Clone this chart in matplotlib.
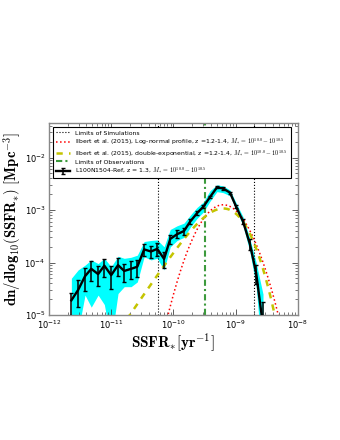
import numpy as np
import matplotlib.pyplot as plt
from matplotlib.lines import Line2D

plt.rcParams['mathtext.fontset'] = 'cm'
plt.rcParams['font.family'] = ['DejaVu Sans']

# --------------------------------------------------
# data (log10 values)
# --------------------------------------------------
log_ssfr = [-11.64, -11.53, -11.42, -11.32, -11.21, -11.11, -11.00, -10.89,
            -10.79, -10.68, -10.58, -10.47, -10.36, -10.26, -10.15, -10.05,
            -9.94, -9.83, -9.73, -9.62, -9.52, -9.41, -9.30, -9.20, -9.09,
            -8.99, -8.88, -8.77, -8.67, -8.56]

log_phi = [-4.72, -4.52, -4.26, -4.12, -4.22, -4.06, -4.24, -4.05,
           -4.16, -4.12, -4.08, -3.75, -3.79, -3.74, -3.93, -3.55,
           -3.46, -3.40, -3.22, -3.06, -2.94, -2.75, -2.57, -2.59, -2.67,
           -2.94, -3.22, -3.65, -4.20, -5.20]

log_err_lo = [-5.30, -4.85, -4.55, -4.35, -4.45, -4.28, -4.50, -4.26,
              -4.38, -4.32, -4.27, -3.88, -3.92, -3.87, -4.10, -3.64,
              -3.54, -3.47, -3.27, -3.10, -2.97, -2.77, -2.59, -2.61, -2.69,
              -2.97, -3.27, -3.76, -4.40, -5.60]

log_err_hi = [-4.58, -4.33, -4.10, -3.98, -4.07, -3.93, -4.07, -3.92,
              -4.02, -3.98, -3.95, -3.64, -3.68, -3.63, -3.80, -3.47,
              -3.39, -3.34, -3.17, -3.02, -2.91, -2.73, -2.55, -2.57, -2.65,
              -2.91, -3.17, -3.56, -4.05, -4.75]

# scatter band (cyan)
log_band_lo = [-5.50, -5.30, -4.62, -4.85, -4.62, -4.80, -5.50, -4.59,
               -4.46, -4.46, -4.37, -3.89, -3.95, -3.92, -4.14, -3.70,
               -3.58, -3.52, -3.33, -3.16, -3.04, -2.83, -2.65, -2.67, -2.73,
               -3.00, -3.30, -3.80, -4.45, -6.00]

log_band_hi = [-4.30, -4.14, -4.05, -3.95, -4.02, -3.92, -4.08, -3.88,
               -3.92, -3.90, -3.86, -3.60, -3.58, -3.57, -3.70, -3.37,
               -3.30, -3.25, -3.10, -2.95, -2.85, -2.63, -2.52, -2.54, -2.62,
               -2.87, -3.13, -3.55, -4.00, -4.60]

# limits
sim_limits = [5.6e-11, 2.0e-9]
obs_limit = 3.2e-10

# Ilbert et al. (2015) fits (parameters)
ln_phi_star = 10**-2.90
ln_log_ssfr_star = -9.20
ln_sigma = 0.285

de_phi_star = 10**-2.666
de_log_ssfr_star = -9.35
de_alpha = -0.725
de_sigma = 0.2375


# --------------------------------------------------
# model curves
# --------------------------------------------------
ssfr_grid = np.logspace(-12, -8, 500)
lg = np.log10(ssfr_grid)

lognormal = ln_phi_star * np.exp(-(lg - ln_log_ssfr_star)**2 / (2 * ln_sigma**2))

ratio = ssfr_grid / 10**de_log_ssfr_star
double_exp = de_phi_star * ratio**(1 - de_alpha) * \
    np.exp(-np.log10(1 + ratio)**2 / (2 * de_sigma**2))


# --------------------------------------------------
# figure
# --------------------------------------------------
fig = plt.figure(figsize=(3.4, 4.4), dpi=100)
ax = fig.add_axes([0.144, 0.284, 0.732, 0.436])

ssfr = 10**np.array(log_ssfr)
phi = 10**np.array(log_phi)
err_lo = phi - 10**np.array(log_err_lo)
err_hi = 10**np.array(log_err_hi) - phi

ax.fill_between(ssfr, 10**np.array(log_band_lo), 10**np.array(log_band_hi),
                color='cyan', lw=0, zorder=1)

green = '#3c9a3c'
green_dash = (3, 1.5, 1, 1.5)

for x in sim_limits:
    ax.axvline(x, color='k', ls=':', lw=0.8, zorder=2)
ax.axvline(obs_limit, color=green, lw=1.5, dashes=green_dash, zorder=2)

ax.plot(ssfr_grid, lognormal, color='red', ls=':', lw=1.1, zorder=3)
ax.plot(ssfr_grid, double_exp, color='#c4c400', ls='--', lw=1.8,
        dashes=(2.5, 2.5), zorder=3)

eb = ax.errorbar(ssfr, phi, yerr=[err_lo, err_hi], color='k', lw=1.7,
                 elinewidth=1.1, capsize=1.5, capthick=1.0, zorder=4)

ax.set_xscale('log')
ax.set_yscale('log')
ax.set_xlim(1e-12, 1e-8)
ax.set_ylim(1e-5, 4.5e-2)

ax.set_xlabel(r'$\mathbf{SSFR_{*}[yr^{-1}]}$', fontsize=11, labelpad=0)
ax.set_ylabel(r'$\mathbf{dn/dlog_{10}(SSFR_{*})\ [Mpc^{-3}]}$', fontsize=10.6)
ax.yaxis.set_label_coords(-0.10, 0.5)

ax.tick_params(which='both', direction='in', top=True, right=True,
               labelsize=6, colors='#444444', labelcolor='k', pad=2.5)
ax.tick_params(which='major', length=4, width=0.6)
ax.tick_params(which='minor', length=2, width=0.5)
for sp in ax.spines.values():
    sp.set_color('#888888')
    sp.set_linewidth(1.0)

mlabel = r'$M_{*}\,=\,10^{10.0}-10^{10.5}$'
handles = [
    Line2D([], [], color='k', ls=':', lw=0.8),
    Line2D([], [], color='red', ls=':', lw=1.1),
    Line2D([], [], color='#c4c400', ls='--', lw=1.8, dashes=(2.5, 2.5)),
    Line2D([], [], color=green, lw=1.5, dashes=green_dash),
    eb,
]
labels = [
    'Limits of Simulations',
    'Ilbert et al. (2015), Log-normal profile, z =1.2-1.4, ' + mlabel,
    'Ilbert et al. (2015), double-exponential, z =1.2-1.4, ' + mlabel,
    'Limits of Observations',
    'L100N1504-Ref, z = 1.3, ' + mlabel,
]
leg = ax.legend(handles, labels, loc='upper left', bbox_to_anchor=(0.005, 0.995),
                fontsize=4.4, frameon=True, fancybox=False, framealpha=1,
                edgecolor='k', handlelength=2.2, labelspacing=0.12,
                borderpad=0.5, handletextpad=0.9)
leg.get_frame().set_linewidth(0.8)
leg.set_zorder(10)

fig.savefig('out.png', dpi=100)
